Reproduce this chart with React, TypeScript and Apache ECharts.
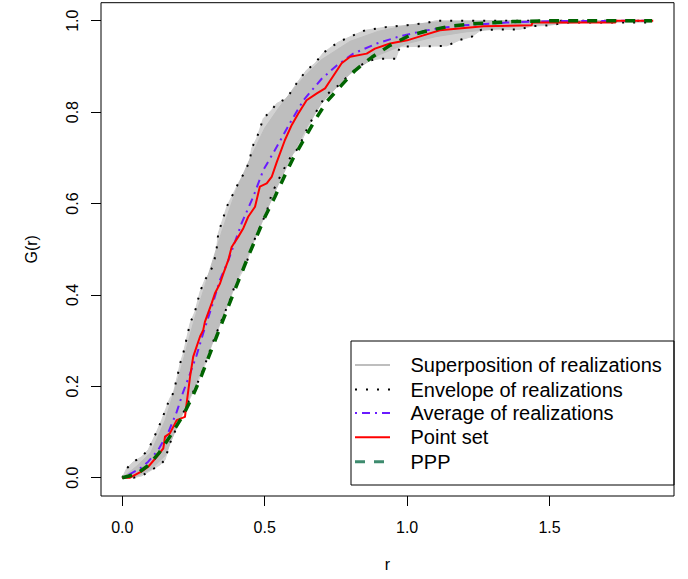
import React, { useEffect, useRef } from "react";
import * as echarts from "echarts";

// ---- data ----
const R_TICKS = [0, 0.5, 1.0, 1.5];
const G_TICKS = [0, 0.2, 0.4, 0.6, 0.8, 1.0];

// envelope of realizations (upper / lower)
const envUpper: number[][] = [
  [0, 0], [0.015, 0.02], [0.039, 0.035], [0.068, 0.046], [0.091, 0.061], [0.12, 0.1], [0.138, 0.126],
  [0.167, 0.174], [0.179, 0.185], [0.197, 0.232], [0.203, 0.25], [0.214, 0.272], [0.238, 0.338],
  [0.255, 0.363], [0.273, 0.407], [0.29, 0.433], [0.302, 0.444], [0.32, 0.465], [0.331, 0.5],
  [0.337, 0.535], [0.367, 0.593], [0.372, 0.6], [0.39, 0.622], [0.407, 0.644], [0.431, 0.67],
  [0.448, 0.695], [0.454, 0.721], [0.472, 0.743], [0.495, 0.786], [0.525, 0.805], [0.542, 0.819],
  [0.577, 0.83], [0.612, 0.863], [0.647, 0.892], [0.677, 0.907], [0.706, 0.93], [0.758, 0.953],
  [0.811, 0.968], [0.852, 0.979], [0.928, 0.986], [1.0, 0.99], [1.069, 0.995], [1.1, 1.0], [1.86, 1.0],
];
const envLower: number[][] = [
  [0, 0], [0.039, 0], [0.068, 0.004], [0.103, 0.017], [0.132, 0.028], [0.15, 0.039], [0.167, 0.075],
  [0.197, 0.119], [0.238, 0.174], [0.261, 0.203], [0.284, 0.236], [0.314, 0.29], [0.349, 0.345],
  [0.378, 0.389], [0.396, 0.422], [0.431, 0.462], [0.466, 0.524], [0.507, 0.582], [0.525, 0.622],
  [0.565, 0.673], [0.595, 0.706], [0.618, 0.721], [0.647, 0.761], [0.677, 0.797], [0.712, 0.834],
  [0.735, 0.848], [0.77, 0.863], [0.788, 0.877], [0.835, 0.902], [0.87, 0.913], [0.905, 0.917],
  [0.96, 0.917], [0.975, 0.943], [1.14, 0.945], [1.186, 0.958], [1.227, 0.965], [1.26, 0.98],
  [1.396, 0.981], [1.437, 0.988], [1.5, 0.99], [1.56, 0.996], [1.86, 0.996],
];

// dense core of the superposed realizations
const coreUpper: number[][] = [
  [0, 0], [0.05, 0.025], [0.1, 0.055], [0.15, 0.125], [0.2, 0.225], [0.25, 0.34], [0.3, 0.44],
  [0.35, 0.54], [0.4, 0.63], [0.45, 0.7], [0.5, 0.765], [0.55, 0.81], [0.6, 0.85], [0.65, 0.885],
  [0.7, 0.915], [0.8, 0.955], [0.9, 0.977], [1.0, 0.99], [1.1, 0.997], [1.3, 1.0], [1.86, 1.0],
];
const coreLower: number[][] = [
  [0, 0], [0.05, 0.003], [0.1, 0.018], [0.15, 0.048], [0.2, 0.125], [0.25, 0.195], [0.3, 0.27],
  [0.35, 0.35], [0.4, 0.43], [0.45, 0.5], [0.5, 0.575], [0.55, 0.645], [0.6, 0.71], [0.65, 0.77],
  [0.7, 0.82], [0.8, 0.885], [0.9, 0.925], [1.0, 0.95], [1.1, 0.965], [1.2, 0.975], [1.4, 0.988],
  [1.6, 0.996], [1.86, 1.0],
];

// average of realizations
const average: number[][] = [
  [0, 0], [0.01, 0.002], [0.062, 0.02], [0.091, 0.035], [0.126, 0.061], [0.162, 0.1], [0.191, 0.144],
  [0.214, 0.188], [0.238, 0.228], [0.261, 0.268], [0.284, 0.316], [0.314, 0.374], [0.343, 0.433],
  [0.372, 0.475], [0.419, 0.557], [0.46, 0.615], [0.495, 0.673], [0.536, 0.717], [0.595, 0.783],
  [0.636, 0.826], [0.7, 0.873], [0.753, 0.902], [0.811, 0.928], [0.893, 0.95], [0.975, 0.966],
  [1.045, 0.976], [1.115, 0.984], [1.2, 0.99], [1.35, 0.996], [1.5, 0.999], [1.86, 1.0],
];

// observed point set
const pointSet: number[][] = [
  [0, 0], [0.027, 0], [0.045, 0.006], [0.068, 0.014], [0.091, 0.024], [0.12, 0.045], [0.144, 0.064],
  [0.15, 0.09], [0.167, 0.097], [0.191, 0.126], [0.22, 0.133], [0.226, 0.163], [0.232, 0.192],
  [0.238, 0.221], [0.249, 0.265], [0.273, 0.309], [0.284, 0.323], [0.29, 0.341], [0.314, 0.382],
  [0.325, 0.403], [0.343, 0.425], [0.355, 0.447], [0.372, 0.476], [0.384, 0.505], [0.407, 0.527],
  [0.425, 0.546], [0.442, 0.571], [0.466, 0.593], [0.483, 0.637], [0.507, 0.644], [0.525, 0.659],
  [0.542, 0.69], [0.571, 0.739], [0.595, 0.772], [0.618, 0.797], [0.647, 0.826], [0.683, 0.841],
  [0.712, 0.852], [0.729, 0.868], [0.747, 0.885], [0.77, 0.907], [0.8, 0.921], [0.858, 0.928],
  [0.887, 0.939], [0.94, 0.95], [1.0, 0.957], [1.057, 0.968], [1.115, 0.979], [1.268, 0.988],
  [1.437, 0.99], [1.44, 0.996], [1.73, 0.996], [1.735, 1.0], [1.864, 1.0],
];

// Poisson point process
const ppp: number[][] = [
  [0, 0], [0.05, 0.008], [0.091, 0.027], [0.13, 0.055], [0.167, 0.09], [0.214, 0.137], [0.249, 0.181],
  [0.279, 0.225], [0.331, 0.309], [0.39, 0.403], [0.442, 0.484], [0.501, 0.571], [0.536, 0.615],
  [0.571, 0.662], [0.6, 0.699], [0.677, 0.783], [0.718, 0.823], [0.77, 0.859], [0.817, 0.891],
  [0.876, 0.92], [0.94, 0.946], [1.01, 0.968], [1.08, 0.979], [1.15, 0.988], [1.23, 0.993],
  [1.37, 0.998], [1.5, 1.0], [1.86, 1.0],
];

const LEGEND_LABELS = [
  "Superposition of realizations",
  "Envelope of realizations",
  "Average of realizations",
  "Point set",
  "PPP",
];

const FONT = "'Liberation Sans', Arial, Helvetica, sans-serif";

function bandSeries(upper: number[][], lower: number[][], color: string, z: number) {
  return {
    type: "custom",
    silent: true,
    data: [[0, 0]],
    z,
    renderItem: (_params: any, api: any) => {
      const pts = upper.map((p) => api.coord(p)).concat(lower.slice().reverse().map((p) => api.coord(p)));
      return { type: "polygon", shape: { points: pts }, style: { fill: color, stroke: color, lineWidth: 1 } };
    },
  };
}

function lineSeries(data: number[][], color: string, width: number, type: any, z: number) {
  return {
    type: "line",
    data,
    showSymbol: false,
    symbol: "none",
    silent: true,
    z,
    lineStyle: { color, width, type, cap: "butt", join: "round" },
  };
}

export default function App() {
  const ref = useRef<HTMLDivElement>(null);
  useEffect(() => {
    if (!ref.current) return;
    const chart = echarts.init(ref.current, null, { renderer: "svg" });

    const legendLeft = 351;
    const legendTop = 341;
    const rowY = [365, 389.5, 413, 437.3, 461.7];
    const lineX1 = 355;
    const lineX2 = 390;
    const textX = 410.5;
    const legendStyles: any[] = [
      { stroke: "#bebebe", lineWidth: 2 },
      { stroke: "#000", lineWidth: 2, lineDash: [2, 9] },
      { stroke: "#6a1bff", lineWidth: 2, lineDash: [2, 5, 8, 5] },
      { stroke: "#ff0000", lineWidth: 2 },
      { stroke: "#3d8b6e", lineWidth: 3, lineDash: [10, 9] },
    ];
    const graphics: any[] = [
      {
        type: "rect",
        shape: { x: legendLeft, y: legendTop, width: 674 - legendLeft, height: 485 - legendTop },
        style: { fill: "#fff", stroke: "#000", lineWidth: 1 },
        z: 10,
      },
    ];
    LEGEND_LABELS.forEach((label, i) => {
      graphics.push({
        type: "line",
        shape: { x1: lineX1, y1: rowY[i], x2: lineX2, y2: rowY[i] },
        style: legendStyles[i],
        z: 11,
      });
      graphics.push({
        type: "text",
        x: textX,
        y: rowY[i],
        style: { text: label, fill: "#000", fontSize: 20, fontFamily: FONT, verticalAlign: "middle", align: "left" },
        z: 11,
      });
    });

    chart.setOption({
      animation: false,
      backgroundColor: "#fff",
      textStyle: { fontFamily: FONT },
      grid: {
        left: 101,
        top: 2.7,
        width: 573,
        height: 493.3,
        show: true,
        borderColor: "#000",
        borderWidth: 1,
        backgroundColor: "transparent",
        z: 20,
      },
      xAxis: {
        type: "value",
        min: -0.0748,
        max: 1.937,
        axisLine: { show: false, onZero: false },
        splitLine: { show: false },
        axisTick: { show: true, customValues: R_TICKS, length: 10, inside: false, lineStyle: { color: "#000", width: 1 } },
        axisLabel: {
          customValues: R_TICKS,
          formatter: (v: number) => v.toFixed(1),
          fontSize: 16,
          color: "#000",
          margin: 23,
          fontFamily: FONT,
        },
        name: "r",
        nameLocation: "middle",
        nameGap: 60,
        nameTextStyle: { fontSize: 16, color: "#000", fontFamily: FONT },
      },
      yAxis: {
        type: "value",
        min: -0.04,
        max: 1.0394,
        axisLine: { show: false, onZero: false },
        splitLine: { show: false },
        axisTick: { show: true, customValues: G_TICKS, length: 10, inside: false, lineStyle: { color: "#000", width: 1 } },
        axisLabel: {
          customValues: G_TICKS,
          formatter: (v: number) => v.toFixed(1),
          fontSize: 16,
          color: "#000",
          margin: 21,
          rotate: 90,
          fontFamily: FONT,
        },
        name: "G(r)",
        nameLocation: "middle",
        nameGap: 62,
        nameRotate: 90,
        nameTextStyle: { fontSize: 16, color: "#000", fontFamily: FONT },
      },
      series: [
        bandSeries(envUpper, envLower, "#d2d2d2", 1),
        bandSeries(coreUpper, coreLower, "#bebebe", 2),
        lineSeries(envUpper, "#000", 2, [2, 9], 3),
        lineSeries(envLower, "#000", 2, [2, 9], 3),
        lineSeries(average, "#6a1bff", 2, [2, 5, 8, 5], 4),
        lineSeries(pointSet, "#ff0000", 2, "solid", 5),
        lineSeries(ppp, "#006400", 3.5, [10, 9], 6),
      ],
      graphic: graphics,
    });
    return () => chart.dispose();
  }, []);
  return <div ref={ref} style={{ position: "absolute", left: 0, top: 0, width: 688, height: 579 }} />;
}
